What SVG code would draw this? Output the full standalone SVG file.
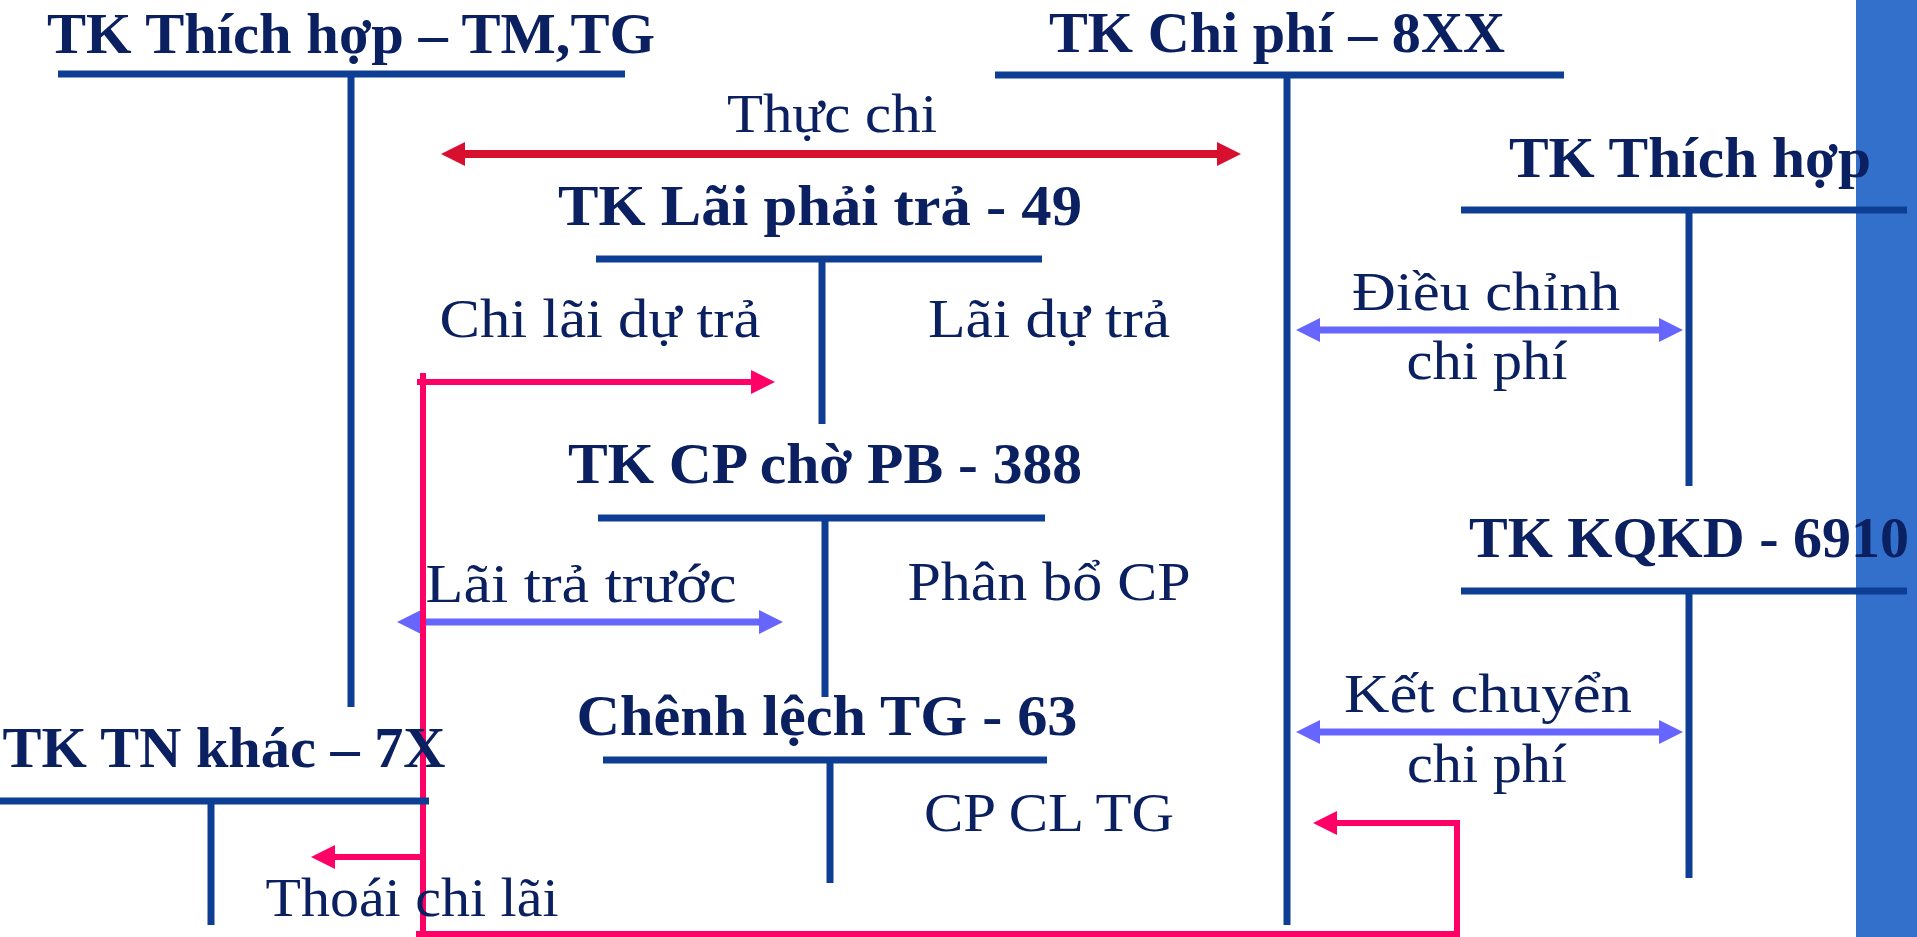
<svg xmlns="http://www.w3.org/2000/svg" width="1917" height="937" viewBox="0 0 1917 937">
<style>
.bg{fill:#ffffff}
.bar{fill:#3370cc}
.t{font-family:"Liberation Serif","Times New Roman",serif;font-weight:bold;font-size:58px;fill:#0b2060}
.l{font-family:"Liberation Serif","Times New Roman",serif;font-size:55px;fill:#0b2060}
.tl{stroke:#0e3e94;stroke-width:7;fill:none}
.red{stroke:#d81030;stroke-width:8;fill:none}
.pink{stroke:#ff0066;stroke-width:6;fill:none}
.lb{stroke:#6666ff;stroke-width:7;fill:none}
</style>
<defs>
<marker id="mRed" markerUnits="userSpaceOnUse" markerWidth="26" markerHeight="26" refX="2" refY="12" orient="auto-start-reverse"><path d="M0,0 L24,12 L0,24 z" fill="#d81030"/></marker>
<marker id="mPink" markerUnits="userSpaceOnUse" markerWidth="26" markerHeight="26" refX="2" refY="12" orient="auto-start-reverse"><path d="M0,0 L24,12 L0,24 z" fill="#ff0066"/></marker>
<marker id="mLb" markerUnits="userSpaceOnUse" markerWidth="26" markerHeight="26" refX="2" refY="12" orient="auto-start-reverse"><path d="M0,0 L24,12 L0,24 z" fill="#6666ff"/></marker>
</defs>
<rect class="bg" x="0" y="0" width="1917" height="937"/>
<rect class="bar" x="1856" y="0" width="61" height="937"/>

<g id="connectors">
<path class="red" d="M463,154 H1219" marker-start="url(#mRed)" marker-end="url(#mRed)"/>
<path class="lb" d="M1318,330 H1661" marker-start="url(#mLb)" marker-end="url(#mLb)"/>
<path class="lb" d="M1318,732 H1661" marker-start="url(#mLb)" marker-end="url(#mLb)"/>
<path class="lb" d="M419,622 H761" marker-start="url(#mLb)" marker-end="url(#mLb)"/>
<path class="pink" d="M423,373 V934"/>
<path class="pink" d="M416,934 H1457 V823 H1335" marker-end="url(#mPink)"/>
<path class="pink" d="M417,382 H753" marker-end="url(#mPink)"/>
<path class="pink" d="M423,857 H333" marker-end="url(#mPink)"/>
</g>

<g id="node-tk-thich-hop-tm-tg">
<text class="t" x="351" y="53" text-anchor="middle" textLength="608" lengthAdjust="spacingAndGlyphs">TK Thích hợp – TM,TG</text>
<line class="tl" x1="58" y1="74" x2="625" y2="74"/>
<line class="tl" x1="351" y1="77" x2="351" y2="707"/>
</g>

<g id="node-tk-chi-phi-8xx">
<text class="t" x="1277" y="52" text-anchor="middle" textLength="456" lengthAdjust="spacingAndGlyphs">TK Chi phí – 8XX</text>
<line class="tl" x1="995" y1="75" x2="1564" y2="75"/>
<line class="tl" x1="1287" y1="78" x2="1287" y2="925"/>
</g>

<g id="node-tk-thich-hop">
<text class="t" x="1690" y="177" text-anchor="middle" textLength="362" lengthAdjust="spacingAndGlyphs">TK Thích hợp</text>
<line class="tl" x1="1461" y1="210" x2="1907" y2="210"/>
<line class="tl" x1="1689" y1="213" x2="1689" y2="486"/>
</g>

<g id="node-tk-lai-phai-tra-49">
<text class="t" x="820" y="225" text-anchor="middle" textLength="524" lengthAdjust="spacingAndGlyphs">TK Lãi phải trả - 49</text>
<line class="tl" x1="596" y1="259" x2="1042" y2="259"/>
<line class="tl" x1="822" y1="262" x2="822" y2="424"/>
</g>

<g id="node-tk-cp-cho-pb-388">
<text class="t" x="825" y="483" text-anchor="middle" textLength="514" lengthAdjust="spacingAndGlyphs">TK CP chờ PB - 388</text>
<line class="tl" x1="598" y1="518" x2="1045" y2="518"/>
<line class="tl" x1="825" y1="521" x2="825" y2="697"/>
</g>

<g id="node-chenh-lech-tg-63">
<text class="t" x="827" y="735" text-anchor="middle" textLength="501" lengthAdjust="spacingAndGlyphs">Chênh lệch TG - 63</text>
<line class="tl" x1="603" y1="760" x2="1047" y2="760"/>
<line class="tl" x1="830" y1="763" x2="830" y2="883"/>
</g>

<g id="node-tk-kqkd-6910">
<text class="t" x="1689" y="557" text-anchor="middle" textLength="440" lengthAdjust="spacingAndGlyphs">TK KQKD - 6910</text>
<line class="tl" x1="1461" y1="591" x2="1907" y2="591"/>
<line class="tl" x1="1689" y1="594" x2="1689" y2="878"/>
</g>

<g id="node-tk-tn-khac-7x">
<text class="t" x="224" y="767" text-anchor="middle" textLength="443" lengthAdjust="spacingAndGlyphs">TK TN khác – 7X</text>
<line class="tl" x1="0" y1="801" x2="429" y2="801"/>
<line class="tl" x1="211" y1="804" x2="211" y2="925"/>
</g>

<g id="labels">
<text class="l" x="832" y="132" text-anchor="middle" textLength="210" lengthAdjust="spacingAndGlyphs">Thực chi</text>
<text class="l" x="600" y="337" text-anchor="middle" textLength="321" lengthAdjust="spacingAndGlyphs">Chi lãi dự trả</text>
<text class="l" x="1049" y="337" text-anchor="middle" textLength="242" lengthAdjust="spacingAndGlyphs">Lãi dự trả</text>
<text class="l" x="581" y="602" text-anchor="middle" textLength="311" lengthAdjust="spacingAndGlyphs">Lãi trả trước</text>
<text class="l" x="1049" y="600" text-anchor="middle" textLength="283" lengthAdjust="spacingAndGlyphs">Phân bổ CP</text>
<text class="l" x="1049" y="831" text-anchor="middle" textLength="250" lengthAdjust="spacingAndGlyphs">CP CL TG</text>
<text class="l" x="412" y="916" text-anchor="middle" textLength="293" lengthAdjust="spacingAndGlyphs">Thoái chi lãi</text>
<text class="l" x="1486" y="310" text-anchor="middle" textLength="268" lengthAdjust="spacingAndGlyphs">Điều chỉnh</text>
<text class="l" x="1487" y="379" text-anchor="middle" textLength="161" lengthAdjust="spacingAndGlyphs">chi phí</text>
<text class="l" x="1488" y="712" text-anchor="middle" textLength="288" lengthAdjust="spacingAndGlyphs">Kết chuyển</text>
<text class="l" x="1487" y="782" text-anchor="middle" textLength="160" lengthAdjust="spacingAndGlyphs">chi phí</text>
</g>
</svg>
